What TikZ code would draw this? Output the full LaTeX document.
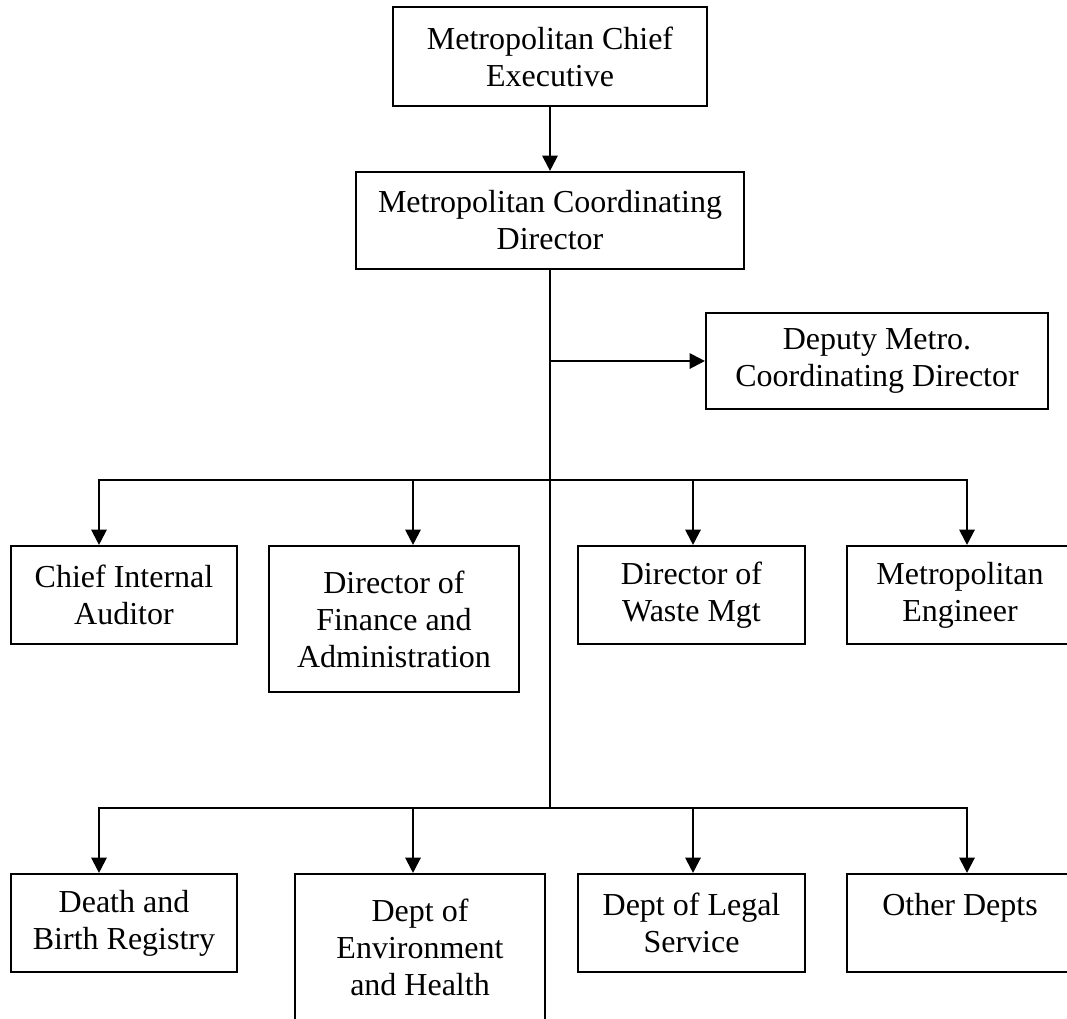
\documentclass[tikz,border=0pt]{standalone}
\usepackage{fontspec}
\setmainfont{Liberation Serif}
\usetikzlibrary{arrows.meta}

\tikzset{
  unit/.style={draw, line width=1.6pt, align=center, inner sep=0pt,
    font=\fontsize{24}{27.75}\selectfont},
  link/.style={line width=1.6pt, line cap=rect},
  feed/.style={line width=1.6pt, -{Triangle[length=11.5pt,width=11.5pt]}},
}

\begin{document}
\begin{tikzpicture}[x=0.75pt,y=0.75pt,yscale=-1]
  \useasboundingbox (0,0) rectangle (1067,1018);

  %Shape: Rectangle [top]
  \node [unit, minimum width=235.5pt, minimum height=74.25pt] (exec) at (550,56.5) {Metropolitan Chief\\Executive};
  \node [unit, minimum width=291pt, minimum height=72.75pt] (mcd) at (550,220.5) {Metropolitan Coordinating\\Director};
  \node [unit, minimum width=256.5pt, minimum height=72pt] (deputy) at (877,361) {Deputy Metro.\\Coordinating Director};

  %Shape: Rectangle [first row]
  \node [unit, minimum width=169.5pt, minimum height=73.5pt] (auditor) at (124,595) {Chief Internal\\Auditor};
  \node [unit, minimum width=187.5pt, minimum height=109.5pt] (finance) at (394,619) {Director of\\Finance and\\Administration};
  \node [unit, minimum width=170.25pt, minimum height=73.5pt] (waste) at (691.5,595) {Director of\\Waste Mgt};
  \node [unit, minimum width=169.5pt, minimum height=73.5pt] (engineer) at (960,595) {Metropolitan\\Engineer};

  %Shape: Rectangle [second row]
  \node [unit, minimum width=169.5pt, minimum height=73.5pt] (registry) at (124,923) {Death and\\Birth Registry};
  \node [unit, minimum width=187.5pt, minimum height=109.5pt] (envhealth) at (420,947) {Dept of\\Environment\\and Health};
  \node [unit, minimum width=170.25pt, minimum height=73.5pt] (legal) at (691.5,923) {Dept of Legal\\Service};
  \node [unit, minimum width=169.5pt, minimum height=73.5pt] (others) at (960,923) {Other Depts\\\phantom{D}};

  % junctions
  \coordinate (hubD) at (550,361);
  \coordinate (hubB) at (550,808);
  \coordinate (dropA1) at (99,480);
  \coordinate (dropA2) at (413,480);
  \coordinate (dropA3) at (693,480);
  \coordinate (dropA4) at (967,480);
  \coordinate (dropB1) at (99,808);
  \coordinate (dropB2) at (413,808);
  \coordinate (dropB3) at (693,808);
  \coordinate (dropB4) at (967,808);

  %Straight Lines
  \draw [feed] (exec) -- (mcd);
  \draw [link] (mcd.south) -- (hubB);
  \draw [feed] (hubD) -- (deputy.west);

  \draw [link] (dropA1) -- (dropA4);
  \draw [feed] (dropA1) -- (dropA1 |- auditor.north);
  \draw [feed] (dropA2) -- (dropA2 |- finance.north);
  \draw [feed] (dropA3) -- (dropA3 |- waste.north);
  \draw [feed] (dropA4) -- (dropA4 |- engineer.north);

  \draw [link] (dropB1) -- (dropB4);
  \draw [feed] (dropB1) -- (dropB1 |- registry.north);
  \draw [feed] (dropB2) -- (dropB2 |- envhealth.north);
  \draw [feed] (dropB3) -- (dropB3 |- legal.north);
  \draw [feed] (dropB4) -- (dropB4 |- others.north);

\end{tikzpicture}
\end{document}
